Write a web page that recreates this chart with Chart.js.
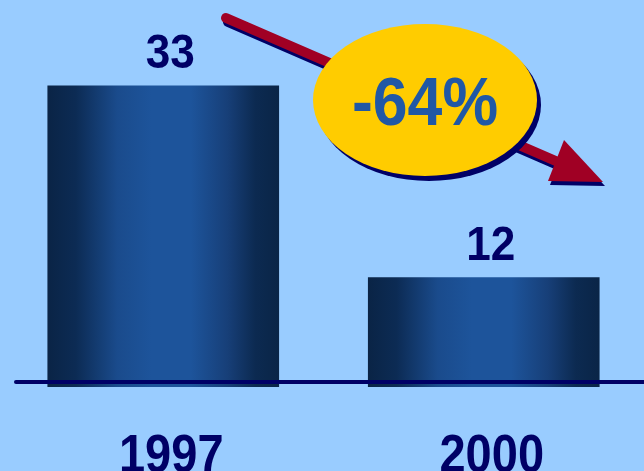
<!DOCTYPE html>
<html>
<head>
<meta charset="utf-8">
<script src="https://cdn.jsdelivr.net/npm/chart.js@4/dist/chart.umd.min.js"></script>
<style>
  html, body { margin: 0; padding: 0; background: #99ccff; }
  #wrap { width: 644px; height: 471px; }
</style>
</head>
<body>
<div id="wrap"><canvas id="chart" width="644" height="471"></canvas></div>
<script>
// data
const years = ['1997', '2000'];
const counts = [33, 12];
const changeLabel = '-64%';

const navy = '#000066';
const fontFam = '"Liberation Sans", Arial, sans-serif';

// narrow bold text, like the original slide font
function narrowText(c, txt, x, y, sx) {
  c.save();
  c.translate(x, y);
  c.scale(sx, 1);
  c.fillText(txt, 0, 0);
  c.restore();
}

// background, baseline, value labels, year labels, arrow + badge
const decor = {
  id: 'decor',
  beforeDraw: function(chart) {
    const c = chart.ctx;
    c.save();
    c.fillStyle = '#99ccff';
    c.fillRect(0, 0, chart.width, chart.height);
    c.restore();
  },
  afterDatasetsDraw: function(chart) {
    const c = chart.ctx;
    const xs = chart.scales.x, ys = chart.scales.y;
    const zero = ys.getPixelForValue(0);

    // baseline
    c.save();
    c.strokeStyle = navy;
    c.lineWidth = 4;
    c.lineCap = 'round';
    c.beginPath();
    c.moveTo(16, zero - 5);
    c.lineTo(chart.width + 5, zero - 5);
    c.stroke();

    // values above bars + years below
    c.fillStyle = navy;
    c.textAlign = 'center';
    c.textBaseline = 'alphabetic';
    counts.forEach(function(v, i) {
      const x = xs.getPixelForValue(i) + 7;
      c.font = 'bold 49px ' + fontFam;
      narrowText(c, String(v), x, ys.getPixelForValue(v) - 18, 0.9);
      c.font = 'bold 54px ' + fontFam;
      narrowText(c, years[i], x + 1, 472, 0.87);
    });

    // arrow (shadow first)
    function arrow(dx, dy, col) {
      c.strokeStyle = col;
      c.fillStyle = col;
      c.lineWidth = 10;
      c.lineCap = 'round';
      c.beginPath();
      c.moveTo(226 + dx, 18 + dy);
      c.lineTo(558 + dx, 162 + dy);
      c.stroke();
      c.beginPath();
      c.moveTo(564 + dx, 140 + dy);
      c.lineTo(603 + dx, 182 + dy);
      c.lineTo(548 + dx, 181 + dy);
      c.closePath();
      c.fill();
    }
    arrow(2, 4, navy);
    arrow(0, 0, '#a00024');

    // yellow badge
    c.fillStyle = navy;
    c.beginPath();
    c.ellipse(429, 105, 112, 76, 0, 0, Math.PI * 2);
    c.fill();
    c.fillStyle = '#ffcc00';
    c.beginPath();
    c.ellipse(425, 100, 112, 76, 0, 0, Math.PI * 2);
    c.fill();

    c.fillStyle = '#2058a5';
    c.font = 'bold 68px ' + fontFam;
    narrowText(c, changeLabel, 425, 125, 0.92);
    c.restore();
  }
};

function barFill(ctx) {
  const chart = ctx.chart;
  if (!chart.chartArea) return '#1d549b';
  const x = chart.scales.x.getPixelForValue(ctx.dataIndex);
  const g = chart.ctx.createLinearGradient(x - 115, 0, x + 115, 0);
  g.addColorStop(0, '#0a2446');
  g.addColorStop(0.12, '#0c2b54');
  g.addColorStop(0.3, '#1a4b8c');
  g.addColorStop(0.45, '#1d549b');
  g.addColorStop(0.62, '#1d549b');
  g.addColorStop(0.78, '#173f78');
  g.addColorStop(0.9, '#0c2a51');
  g.addColorStop(1, '#0a2547');
  return g;
}

new Chart(document.getElementById('chart'), {
  type: 'bar',
  data: {
    labels: years,
    datasets: [{
      data: counts,
      backgroundColor: barFill,
      borderWidth: 0,
      barThickness: 231
    }]
  },
  options: {
    responsive: false,
    devicePixelRatio: 1,
    animation: false,
    layout: { padding: { top: 22, bottom: 84, left: 3, right: -2 } },
    plugins: {
      legend: { display: false },
      tooltip: { enabled: false }
    },
    scales: {
      x: { display: false },
      y: { display: false, min: 0, max: 40 }
    }
  },
  plugins: [decor]
});
</script>
</body>
</html>
